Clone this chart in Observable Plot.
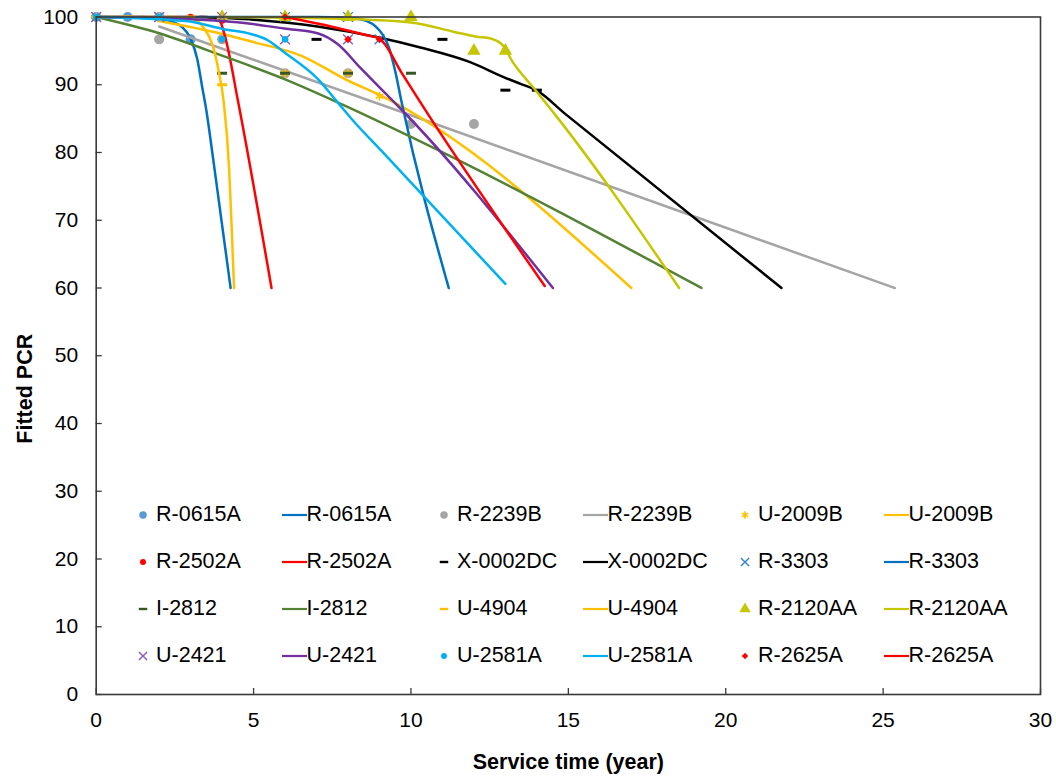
<!DOCTYPE html>
<html><head><meta charset="utf-8">
<script src="https://cdn.jsdelivr.net/npm/d3@7"></script>
<script src="https://cdn.jsdelivr.net/npm/@observablehq/plot@0.6"></script>
<style>
html,body{margin:0;padding:0;background:#fff;}
#wrap{position:relative;width:1056px;height:778px;font-family:"Liberation Sans",Arial,sans-serif;color:#000;}
#legend .lt{position:absolute;font-size:21.5px;line-height:1;white-space:nowrap;transform:translateY(-50%);}
#legend svg{position:absolute;overflow:visible;}
</style></head>
<body><div id="wrap"><div id="chart"></div><div id="legend"></div></div>
<script>
// ---------- data ----------
const xTicks = [0, 5, 10, 15, 20, 25, 30];
const yTicks = [0, 10, 20, 30, 40, 50, 60, 70, 80, 90, 100];
const xTitle = "Service time (year)";
const yTitle = "Fitted PCR";

// observed PCR (service time, PCR)
const obs_R0615A = [[0,100],[1,100],[2,100],[3,96.7]];
const obs_R2239B = [[2,96.7],[4,96.7],[6,91.7],[8,91.7],[10,84.2],[12,84.2]];
const obs_U2009B = [[0,100],[2,100],[6,91.7],[8,91.7],[9,88.3]];
const obs_R2502A = [[0,100],[3,100],[4,99.5]];
const obs_X0002DC = [[7,96.7],[11,96.7],[13,89.2],[14,89.2]];
const obs_R3303 = [[0,100],[2,100],[6,100],[8,100],[9,96.7]];
const obs_I2812 = [[0,100],[4,91.7],[6,91.7],[8,91.7],[10,91.7]];
const obs_U4904 = [[0,100],[1,100],[3,100],[4,90]];
const obs_R2120AA = [[4,100],[6,100],[8,100],[10,100],[12,95],[13,95]];
const obs_U2421 = [[0,100],[2,100],[4,100],[6,96.7],[8,96.7]];
const obs_U2581A = [[0,100],[2,100],[4,96.7],[6,96.7]];
const obs_R2625A = [[6,100],[8,96.7],[9,96.7]];

// fitted PCR curves (service time, PCR)
const fit_R0615A = [[0,100],[1.5,100],[2.2,99.6],[2.73,98.5],[3.0,96.8],[3.21,93.8],[3.37,89.6],[3.5,86.2],[3.7,79.6],[3.95,71],[4.27,60]];
const fit_R2239B = [[2,98.6],[10,85.5],[25.37,60]];
const fit_U2009B = [[2,99.4],[4,97.5],[5,96.3],[6.5,94.3],[8,90.6],[9,88.5],[17,60]];
const fit_R2502A = [[0,100],[3.5,100],[3.9,99.6],[4.1,97],[4.5,87.7],[5.57,60]];
const fit_X0002DC = [[3.3,100],[5,99.6],[7.03,98.6],[8.94,97],[10.3,95.5],[11.9,93.3],[12.96,91.1],[13.5,90.1],[13.98,89.2],[14.9,85.7],[21.77,60]];
const fit_R3303 = [[0,100],[7,100],[8,99.9],[8.6,99.4],[8.9,98.5],[9.1,97.4],[9.3,95.5],[9.5,92],[9.7,87.5],[11.2,60]];
const fit_I2812 = [[0,100],[2,97.6],[4,94.3],[6,90.8],[8,86.7],[10,82.3],[19.23,60]];
const fit_U4904 = [[0,100],[2.5,100],[3.1,99.7],[3.4,98.5],[3.7,95.8],[3.9,91.8],[4.05,87.5],[4.22,77.8],[4.29,70.5],[4.38,60]];
const fit_R2120AA = [[4,100],[8,99.7],[10,99.2],[11.38,97.8],[12.07,97.1],[12.55,96.8],[12.92,95.8],[13.24,93.3],[13.92,89.4],[14.56,85.7],[18.52,60]];
const fit_U2421 = [[0,100],[2.85,99.7],[4.91,99.0],[5.97,98.3],[7.03,97.6],[7.67,96.0],[8.41,92.4],[9.15,88.9],[9.58,86.9],[14.51,60]];
const fit_U2581A = [[0,100],[2.85,99.4],[4.06,98.2],[4.91,97.5],[5.4,96.7],[5.97,94.8],[7.03,90.9],[7.67,87.4],[8.2,84.5],[9.05,80.3],[13,60.6]];
const fit_R2625A = [[6,100],[7.56,98.5],[8.6,97.3],[9,96.8],[9.7,91.8],[10.3,87.4],[14.25,60.3]];

// ---------- styling ----------
const dash = {draw(ctx, size){const r=Math.sqrt(size/Math.PI); ctx.moveTo(-r,0); ctx.lineTo(r,0);}};
const diamond = {draw(ctx, size){const r=Math.sqrt(size/Math.PI); ctx.moveTo(0,-r); ctx.lineTo(r,0); ctx.lineTo(0,r); ctx.lineTo(-r,0); ctx.closePath();}};
const MK = {
  circle: (c)=>({symbol:"circle", r:5, fill:c, stroke:"none"}),
  dot: (c)=>({symbol:"circle", r:3.3, fill:c, stroke:"none"}),
  star: (c)=>({symbol:"asterisk", r:4.2, fill:"none", stroke:c, strokeWidth:1.6}),
  dash: (c)=>({symbol:dash, r:5, fill:"none", stroke:c, strokeWidth:3}),
  times: (c)=>({symbol:"times", r:4.5, fill:"none", stroke:c, strokeWidth:1.4}),
  tri: (c)=>({symbol:"triangle", r:5, fill:c, stroke:"none"}),
  diamond: (c)=>({symbol:diamond, r:3.8, fill:c, stroke:"none"})
};
const series = [
  {name:"R-0615A", obs:obs_R0615A, fit:fit_R0615A, mk:"circle", mc:"#5B9BD5", lc:"#0070C0"},
  {name:"R-2239B", obs:obs_R2239B, fit:fit_R2239B, mk:"circle", mc:"#A5A5A5", lc:"#A5A5A5"},
  {name:"U-2009B", obs:obs_U2009B, fit:fit_U2009B, mk:"star", mc:"#FFC000", lc:"#FFC000"},
  {name:"R-2502A", obs:obs_R2502A, fit:fit_R2502A, mk:"dot", mc:"#FF0000", lc:"#FF0000"},
  {name:"X-0002DC", obs:obs_X0002DC, fit:fit_X0002DC, mk:"dash", mc:"#000000", lc:"#000000"},
  {name:"R-3303", obs:obs_R3303, fit:fit_R3303, mk:"times", mc:"#2F85D0", lc:"#0070C0"},
  {name:"I-2812", obs:obs_I2812, fit:fit_I2812, mk:"dash", mc:"#375623", lc:"#548235"},
  {name:"U-4904", obs:obs_U4904, fit:fit_U4904, mk:"dash", mc:"#FFC000", lc:"#FFC000"},
  {name:"R-2120AA", obs:obs_R2120AA, fit:fit_R2120AA, mk:"tri", mc:"#C5C500", lc:"#C5C500"},
  {name:"U-2421", obs:obs_U2421, fit:fit_U2421, mk:"times", mc:"#8A5AC2", lc:"#7030A0"},
  {name:"U-2581A", obs:obs_U2581A, fit:fit_U2581A, mk:"dot", mc:"#00B0F0", lc:"#00B0F0"},
  {name:"R-2625A", obs:obs_R2625A, fit:fit_R2625A, mk:"diamond", mc:"#FF0000", lc:"#FF0000"}
];
const axisColor = "#3a3a3a";

const seriesMarks = series.flatMap(s => [
  Plot.dot(s.obs, {x: d=>d[0], y: d=>d[1], ...MK[s.mk](s.mc)}),
  Plot.line(s.fit, {x: d=>d[0], y: d=>d[1], stroke: s.lc, strokeWidth: 2.5, curve: "monotone-x"})
]);

const chart = Plot.plot({
  width: 1056, height: 778,
  marginLeft: 95.7, marginRight: 16, marginTop: 16.5, marginBottom: 84,
  x: {domain: [0, 30]},
  y: {domain: [0, 100]},
  style: {fontFamily: "'Liberation Sans', Arial, sans-serif", fontSize: "21px", color: "#000", background: "#fff", overflow: "visible"},
  marks: [
    Plot.axisX(xTicks, {tickSize: 0, tickPadding: 18, label: null, fill: "#000"}),
    Plot.axisY(yTicks, {tickSize: 0, tickPadding: 18, label: null, fill: "#000"}),
    ...seriesMarks,
    Plot.ruleX(xTicks, {x: d=>d, y1: 0, y2: 0, insetTop: -6, stroke: axisColor, strokeWidth: 1.3}),
    Plot.ruleY(yTicks, {y: d=>d, x1: 0, x2: 0, insetRight: -6, stroke: axisColor, strokeWidth: 1.3}),
    Plot.frame({stroke: axisColor, strokeWidth: 1.6}),
    Plot.text([xTitle], {frameAnchor: "bottom", textAnchor: "middle", dy: 74, fontWeight: "bold", fontSize: 21.5}),
    Plot.text([yTitle], {frameAnchor: "left", textAnchor: "middle", dx: -71, dy: 33, rotate: -90, fontWeight: "bold", fontSize: 21.5})
  ]
});
document.getElementById("chart").appendChild(chart);

// ---------- legend (inside plot area, 4 rows x 6 columns) ----------
const legend = document.getElementById("legend");
const rowY = [515, 562, 609, 656];
const colPitch = 301;
const entries = series.flatMap(s => [{s, kind:"m"}, {s, kind:"l"}]);
entries.forEach((e, i) => {
  const row = Math.floor(i / 6), col = i % 6;
  const pair = Math.floor(col / 2);
  const y = rowY[row];
  const ns = "http://www.w3.org/2000/svg";
  const sv = document.createElementNS(ns, "svg");
  let textX;
  if (e.kind === "m") {
    const cx = 143 + pair * colPitch;
    sv.setAttribute("width", 20); sv.setAttribute("height", 20);
    sv.style.left = (cx - 10) + "px"; sv.style.top = (y - 10) + "px";
    const m = MK[e.s.mk](e.s.mc);
    const sym = typeof m.symbol === "string" ? ({circle:d3.symbolCircle, asterisk:d3.symbolAsterisk, times:d3.symbolTimes, triangle:d3.symbolTriangle})[m.symbol] : m.symbol;
    const p = document.createElementNS(ns, "path");
    const rr = m.r * (e.s.mk === "circle" ? 0.75 : e.s.mk === "dot" ? 0.9 : 0.85);
    p.setAttribute("d", d3.symbol(sym, rr * rr * Math.PI)());
    p.setAttribute("transform", "translate(10,10)");
    p.setAttribute("fill", m.fill); p.setAttribute("stroke", m.stroke);
    if (m.strokeWidth) p.setAttribute("stroke-width", m.strokeWidth * (e.s.mk === "dash" ? 0.8 : 1));
    sv.appendChild(p);
    textX = 156 + pair * colPitch;
  } else {
    const x0 = 282 + pair * colPitch;
    sv.setAttribute("width", 26); sv.setAttribute("height", 6);
    sv.style.left = x0 + "px"; sv.style.top = (y - 3) + "px";
    const l = document.createElementNS(ns, "line");
    l.setAttribute("x1", 0); l.setAttribute("x2", 25); l.setAttribute("y1", 3); l.setAttribute("y2", 3);
    l.setAttribute("stroke", e.s.lc); l.setAttribute("stroke-width", 2.2);
    sv.appendChild(l);
    textX = 306.5 + pair * colPitch;
  }
  legend.appendChild(sv);
  const t = document.createElement("div");
  t.className = "lt"; t.textContent = e.s.name;
  t.style.left = textX + "px"; t.style.top = y + "px";
  legend.appendChild(t);
});
</script>
</body></html>
